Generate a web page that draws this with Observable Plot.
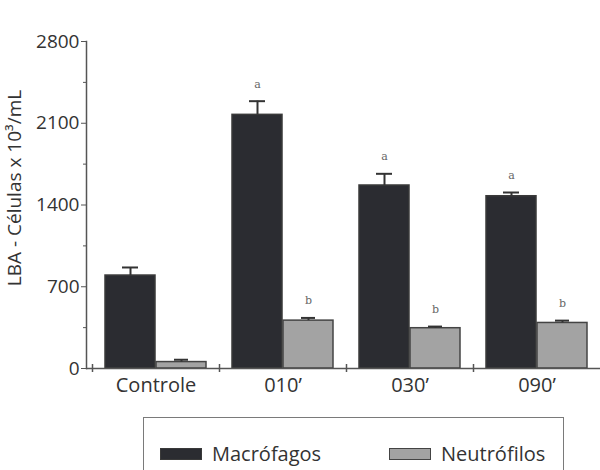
<!DOCTYPE html>
<html>
<head>
<meta charset="utf-8">
<script src="https://cdn.jsdelivr.net/npm/d3@7"></script>
<script src="https://cdn.jsdelivr.net/npm/@observablehq/plot@0.6"></script>
<style>
  body { margin: 0; background: #fff; font-family: "Open Sans", sans-serif; }
  #wrap { position: relative; width: 600px; height: 470px; overflow: hidden; }
  #legend { position: absolute; left: 143px; top: 417px; width: 421px; height: 70px;
            border: 1.5px solid #7a7a7a; box-sizing: border-box; }
  .item { position: absolute; top: 22px; display: flex; align-items: center; font-size: 20px; color: #333; }
  .sw { width: 42px; height: 12px; box-sizing: border-box; margin-right: 10px; }
</style>
</head>
<body>
<div id="wrap">
  <div id="chart"></div>
  <div id="legend">
    <div class="item" style="left:16px"><div class="sw" style="background:#2b2c31;border:1.5px solid #3a3a3a"></div>Macrófagos</div>
    <div class="item" style="left:245px"><div class="sw" style="background:#a3a3a3;border:1.5px solid #444"></div>Neutrófilos</div>
  </div>
</div>
<script>
const groups = ["Controle", "010’", "030’", "090’"];
const macrofagos = [796, 2172, 1567, 1475];
const macrofagosErr = [69, 117, 100, 32];
const neutrofilos = [55, 410, 345, 390];
const neutrofilosErr = [20, 23, 14, 20];
const macroLetters = ["", "a", "a", "a"];
const neutroLetters = ["", "b", "b", "b"];
const yTicks = [0, 700, 1400, 2100, 2800];
const yMinor = [350, 1050, 1750, 2450];
const yLabel = "LBA - Células x 10³/mL";

const macro = groups.map((g, i) => ({group: g, value: macrofagos[i], err: macrofagosErr[i], letter: macroLetters[i]}));
const neutro = groups.map((g, i) => ({group: g, value: neutrofilos[i], err: neutrofilosErr[i], letter: neutroLetters[i]}));

const BW = 127;            // band width in px
const OFF = 25.5;          // bar centre offset from band centre
const ink = "#333";

const chart = Plot.plot({
  width: 600,
  height: 400,
  marginLeft: 86,
  marginRight: 0,
  marginTop: 41,
  marginBottom: 32,
  style: {fontFamily: "Open Sans, sans-serif", fontSize: "20px", color: ink, overflow: "visible", background: "#fff"},
  x: {domain: groups, padding: 0, insetLeft: 6, label: null},
  y: {domain: [0, 2800], label: null},
  marks: [
    Plot.barY(macro, {x: "group", y: "value", fill: "#2b2c31", stroke: "#3a3a3a", strokeWidth: 1.5, insetLeft: 13, insetRight: 64}),
    Plot.barY(neutro, {x: "group", y: "value", fill: "#a3a3a3", stroke: "#444", strokeWidth: 1.5, insetLeft: 64, insetRight: 13}),
    // error bars
    Plot.ruleX(macro, {x: "group", y1: "value", y2: d => d.value + d.err, dx: -OFF, stroke: ink, strokeWidth: 2}),
    Plot.tickY(macro, {x: "group", y: d => d.value + d.err, stroke: ink, strokeWidth: 2, insetLeft: 30, insetRight: BW - 46}),
    Plot.ruleX(neutro, {x: "group", y1: "value", y2: d => d.value + d.err, dx: OFF, stroke: ink, strokeWidth: 2}),
    Plot.tickY(neutro, {x: "group", y: d => d.value + d.err, stroke: ink, strokeWidth: 2, insetLeft: 82, insetRight: BW - 96}),
    // significance letters
    Plot.text(macro, {x: "group", y: d => d.value + d.err, text: "letter", dx: -OFF, dy: -17, fontFamily: "DejaVu Serif, serif", fontSize: 11, fill: "#666"}),
    Plot.text(neutro, {x: "group", y: d => d.value + d.err, text: "letter", dx: OFF, dy: -17, fontFamily: "DejaVu Serif, serif", fontSize: 11, fill: "#666"}),
    // axes lines
    Plot.ruleY([0], {stroke: "#555", strokeWidth: 1.5}),
    Plot.frame({anchor: "left", stroke: "#555", strokeWidth: 1.5}),
    Plot.ruleX(groups, {x: d => d, y1: 0, y2: 0, dx: -BW / 2, insetTop: -4, insetBottom: -4, stroke: "#555", strokeWidth: 1.5}),
    // y axis
    Plot.axisY({ticks: yTicks, tickFormat: d3.format("d"), tickSize: 5, tickPadding: 2, fontSize: 19, stroke: "#555", label: null}),
    Plot.axisY({ticks: yMinor, tickSize: 3, tickFormat: () => "", stroke: "#555", label: null}),
    // x axis
    Plot.axisX({tickSize: 0, tickPadding: 9, fontSize: 20, label: null}),
    // y label
    Plot.text([{}], {frameAnchor: "left", textAnchor: "middle", lineAnchor: "middle", text: () => yLabel, rotate: -90, dx: -72, dy: -17, fontSize: 19, fill: ink})
  ]
});
document.getElementById("chart").appendChild(chart);
</script>
</body>
</html>
